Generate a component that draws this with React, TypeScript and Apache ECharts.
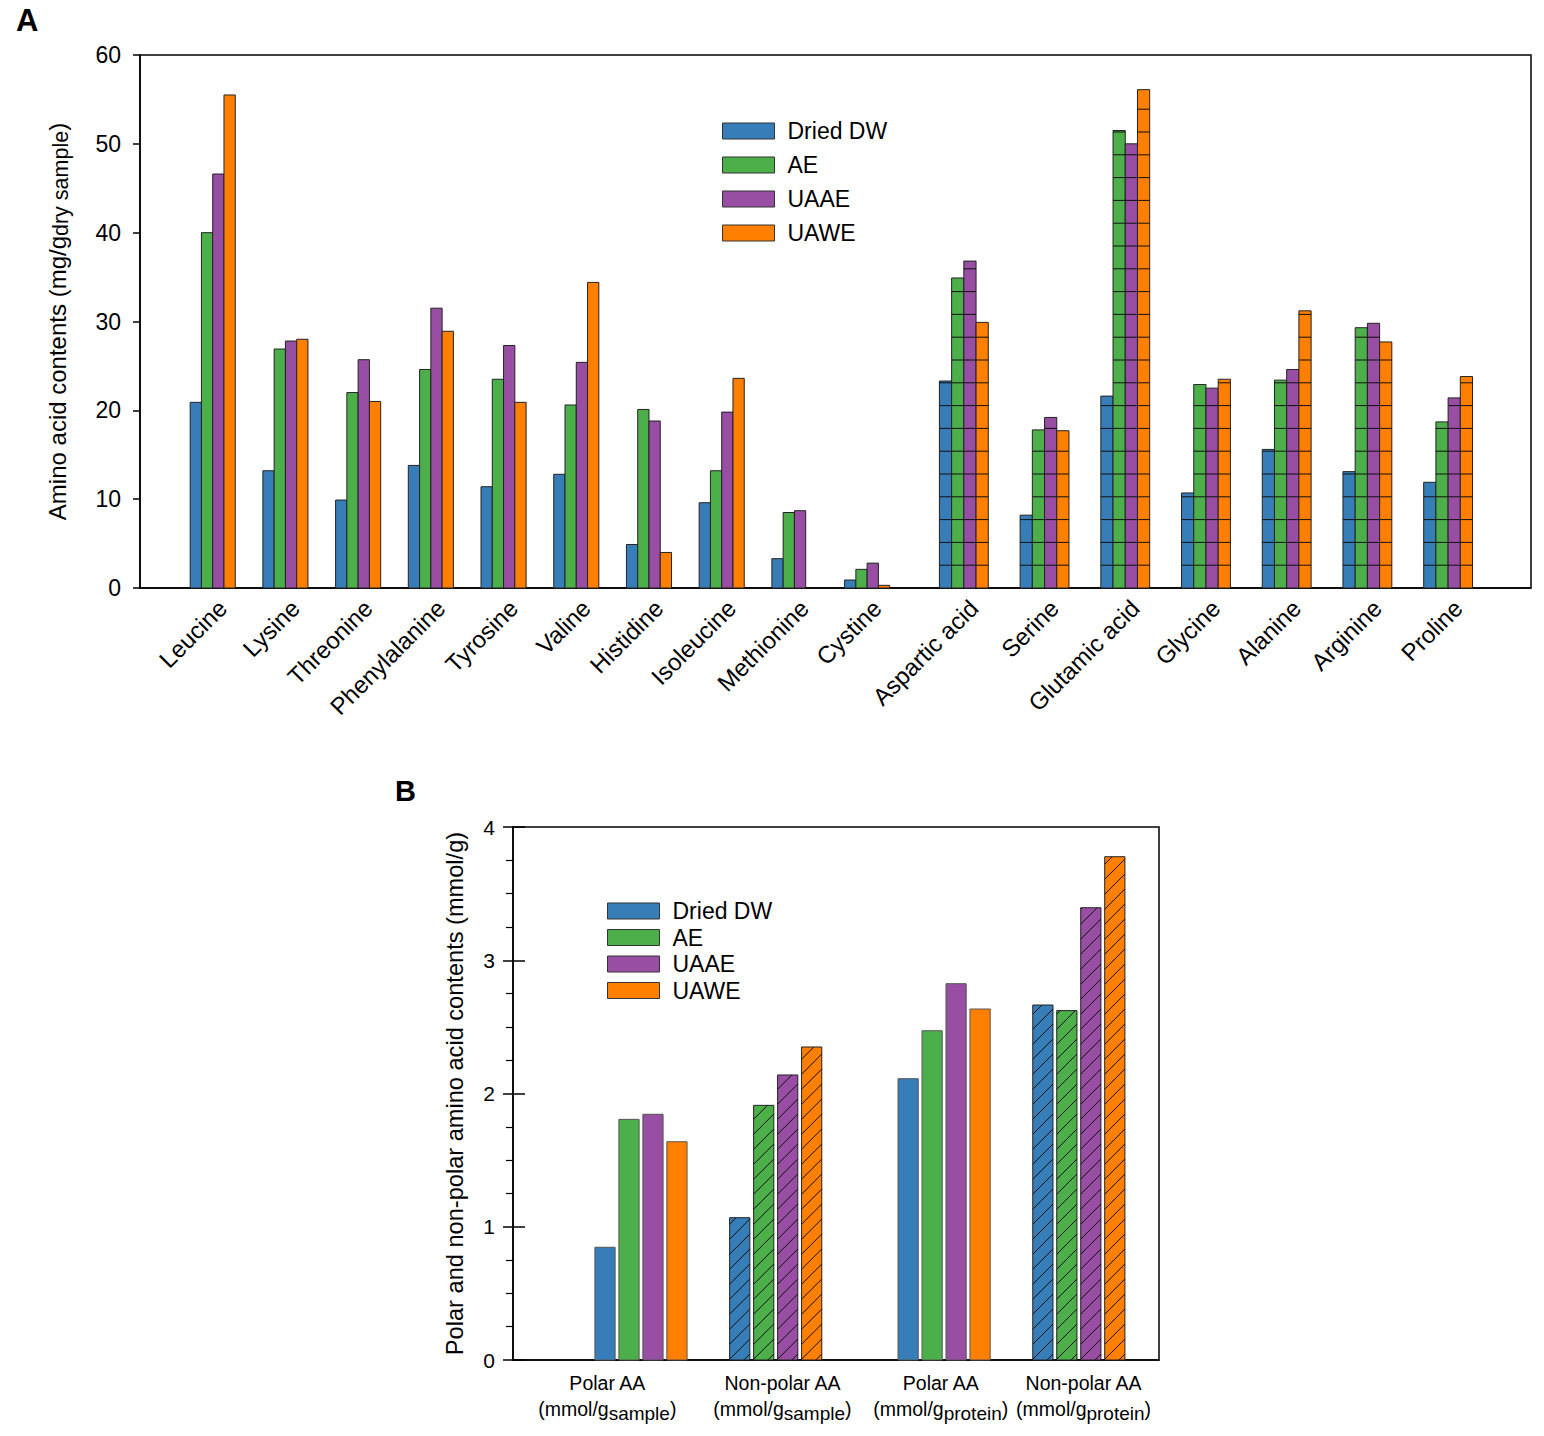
import React, { useEffect, useRef } from 'react';
import * as echarts from 'echarts';

const FONT = '"Liberation Sans", Arial, sans-serif';

// ---- shared ----
const seriesNames = ['Dried DW', 'AE', 'UAAE', 'UAWE'];
const colors = ['#377eb8', '#4daf4a', '#984ea3', '#ff7f00'];

// ---- Panel A data ----
const aminoAcids = [
  'Leucine', 'Lysine', 'Threonine', 'Phenylalanine', 'Tyrosine', 'Valine', 'Histidine',
  'Isoleucine', 'Methionine', 'Cystine', 'Aspartic acid', 'Serine', 'Glutamic acid',
  'Glycine', 'Alanine', 'Arginine', 'Proline',
];
// x positions of the groups (two sub-plots with different spacing)
const aminoPositions = [1, 2, 3, 4, 5, 6, 7, 8, 9, 10, 11.33, 12.44, 13.55, 14.66, 15.77, 16.88, 17.99];
const patternedFrom = 10; // non-essential amino acids drawn with a grid pattern

const driedDW_A = [20.9, 13.2, 9.9, 13.8, 11.4, 12.8, 4.9, 9.6, 3.3, 0.9, 23.3, 8.2, 21.6, 10.7, 15.6, 13.1, 11.9];
const ae_A = [40.0, 26.9, 22.0, 24.6, 23.5, 20.6, 20.1, 13.2, 8.5, 2.1, 34.9, 17.8, 51.5, 22.9, 23.4, 29.3, 18.7];
const uaae_A = [46.6, 27.8, 25.7, 31.5, 27.3, 25.4, 18.8, 19.8, 8.7, 2.8, 36.8, 19.2, 50.0, 22.5, 24.6, 29.8, 21.4];
const uawe_A = [55.5, 28.0, 21.0, 28.9, 20.9, 34.4, 4.0, 23.6, null, 0.3, 29.9, 17.7, 56.1, 23.5, 31.2, 27.7, 23.8];
const valuesA = [driedDW_A, ae_A, uaae_A, uawe_A];

// ---- Panel B data ----
const polarLabels = ['Polar AA', 'Non-polar AA', 'Polar AA', 'Non-polar AA'];
const polarUnits = ['sample', 'sample', 'protein', 'protein'];
const polarPositions = [0.95, 1.95, 3.2, 4.2];
const polarLabelPositions = [0.7, 2.0, 3.175, 4.235];
const hatched = [false, true, false, true];
const driedDW_B = [0.846, 1.068, 2.111, 2.664];
const ae_B = [1.806, 1.911, 2.471, 2.622];
const uaae_B = [1.844, 2.139, 2.824, 3.394];
const uawe_B = [1.638, 2.349, 2.634, 3.777];
const valuesB = [driedDW_B, ae_B, uaae_B, uawe_B];

function renderBarA(s: number) {
  return (params: any, api: any) => {
    const x = api.value(0);
    const v = api.value(1);
    const i = api.value(2);
    const pattern = i >= patternedFrom;
    const bw = pattern ? 0.168 : 0.155;
    const x0 = x + (s - 2) * bw;
    const tl = api.coord([x0, v]);
    const br = api.coord([x0 + bw, 0]);
    const children: any[] = [
      {
        type: 'rect',
        shape: { x: tl[0], y: tl[1], width: br[0] - tl[0], height: br[1] - tl[1] },
        style: { fill: colors[s], stroke: '#222', lineWidth: 1 },
      },
    ];
    if (pattern) {
      for (let y = br[1] - 22.8; y > tl[1] + 0.5; y -= 22.8) {
        children.push({
          type: 'line',
          shape: { x1: tl[0], y1: y, x2: br[0], y2: y },
          style: { stroke: '#111', lineWidth: 1 },
        });
      }
    }
    return { type: 'group', children };
  };
}

function renderBarB(s: number) {
  return (params: any, api: any) => {
    const x = api.value(0);
    const v = api.value(1);
    const i = api.value(2);
    const bw = 0.15;
    const step = 0.178;
    const x0 = x + (s - 1.5) * step - bw / 2;
    const tl = api.coord([x0, v]);
    const br = api.coord([x0 + bw, 0]);
    const left = tl[0], top = tl[1], right = br[0], bottom = br[1];
    const w = right - left;
    const h = hatched[i];
    const children: any[] = [
      {
        type: 'rect',
        shape: { x: left, y: top, width: w, height: bottom - top },
        style: { fill: colors[s], stroke: h ? '#222' : '#555', lineWidth: 1 },
      },
    ];
    if (h) {
      for (let c = bottom + w - 6; c > top; c -= 15) {
        let sx = left, sy = c, ex = right, ey = c - w;
        if (sy > bottom) { sx = left + (sy - bottom); sy = bottom; }
        if (ey < top) { ex = right - (top - ey); ey = top; }
        if (sx < ex) {
          children.push({
            type: 'line',
            shape: { x1: sx, y1: sy, x2: ex, y2: ey },
            style: { stroke: '#111', lineWidth: 1 },
          });
        }
      }
    }
    return { type: 'group', children };
  };
}

export default function App() {
  const ref = useRef<HTMLDivElement>(null);
  useEffect(() => {
    document.body.style.margin = '0';
    if (!ref.current) return;
    const chart = echarts.init(ref.current, undefined, { renderer: 'svg' });

    const axisLine = { show: true, lineStyle: { color: '#000', width: 1.5 } };

    const seriesA = seriesNames.map((name, s) => ({
      type: 'custom',
      name,
      xAxisIndex: 0,
      yAxisIndex: 0,
      itemStyle: { color: colors[s], borderColor: '#222', borderWidth: 1 },
      encode: { x: 0, y: 1 },
      data: valuesA[s]
        .map((v, i) => (v == null ? null : [aminoPositions[i], v, i]))
        .filter((d) => d !== null),
      renderItem: renderBarA(s),
    }));

    const seriesB = seriesNames.map((name, s) => ({
      type: 'custom',
      name,
      xAxisIndex: 1,
      yAxisIndex: 1,
      itemStyle: { color: colors[s], borderColor: '#333', borderWidth: 1 },
      encode: { x: 0, y: 1 },
      data: valuesB[s].map((v, i) => [polarPositions[i], v, i]),
      renderItem: renderBarB(s),
    }));

    const labelsA = {
      type: 'custom',
      name: 'labelsA',
      xAxisIndex: 0,
      yAxisIndex: 0,
      silent: true,
      clip: false,
      encode: { x: 0, y: 1 },
      data: aminoAcids.map((n, i) => [aminoPositions[i], 0, i]),
      renderItem: (params: any, api: any) => {
        const i = api.value(2);
        const p = api.coord([api.value(0), 0]);
        return {
          type: 'text',
          x: p[0] + 10,
          y: p[1] + 16,
          rotation: Math.PI / 4,
          style: {
            text: aminoAcids[i],
            fill: '#000',
            fontSize: 24,
            fontFamily: FONT,
            align: 'right',
            verticalAlign: 'middle',
          },
        };
      },
    };

    const labelsB = {
      type: 'custom',
      name: 'labelsB',
      xAxisIndex: 1,
      yAxisIndex: 1,
      silent: true,
      clip: false,
      encode: { x: 0, y: 1 },
      data: polarLabels.map((n, i) => [polarLabelPositions[i], 0, i]),
      renderItem: (params: any, api: any) => {
        const i = api.value(2);
        const p = api.coord([api.value(0), 0]);
        return {
          type: 'text',
          x: p[0],
          y: p[1] + 11,
          style: {
            text: `{l1|${polarLabels[i]}}\n{a|(mmol/g}{s|${polarUnits[i]}}{a|)}`,
            align: 'center',
            verticalAlign: 'top',
            rich: {
              l1: { fontSize: 19.5, lineHeight: 24, fontFamily: FONT, fill: '#000' },
              a: { fontSize: 19.5, lineHeight: 28, fontFamily: FONT, fill: '#000' },
              s: { fontSize: 19, lineHeight: 16, fontFamily: FONT, fill: '#000', verticalAlign: 'bottom' },
            },
          },
        };
      },
    };

    const legendCommon = {
      data: seriesNames,
      orient: 'vertical',
      itemWidth: 52,
      itemHeight: 16,
      icon: 'rect',
      padding: 0,
      selectedMode: false,
      itemStyle: { borderColor: '#333', borderWidth: 1 },
      textStyle: { fontSize: 23, lineHeight: 24, color: '#000', fontFamily: FONT, padding: [0, 0, 0, 8] },
    };

    const option: any = {
      animation: false,
      backgroundColor: '#fff',
      textStyle: { fontFamily: FONT },
      graphic: [
        { type: 'text', left: 16, top: 5, style: { text: 'A', font: `bold 31px ${FONT}`, fill: '#000' } },
        { type: 'text', left: 395, top: 776, style: { text: 'B', font: `bold 29px ${FONT}`, fill: '#000' } },
      ],
      legend: [
        { ...legendCommon, left: 722, top: 119, itemGap: 10 },
        { ...legendCommon, left: 607, top: 899, itemGap: 2.5 },
      ],
      grid: [
        { left: 140, top: 55, width: 1391, height: 533, show: true, borderColor: '#000', borderWidth: 1.5 },
        { left: 513, top: 827, width: 646, height: 533, show: true, borderColor: '#000', borderWidth: 1.5 },
      ],
      xAxis: [
        {
          gridIndex: 0, type: 'value', min: 0, max: 19.13,
          axisLine, axisTick: { show: false }, axisLabel: { show: false }, splitLine: { show: false },
        },
        {
          gridIndex: 1, type: 'value', min: 0, max: 4.795,
          axisLine, axisTick: { show: false }, axisLabel: { show: false }, splitLine: { show: false },
        },
      ],
      yAxis: [
        {
          gridIndex: 0, type: 'value', min: 0, max: 60, interval: 10, position: 'left',
          axisLine,
          axisTick: { show: true, length: 7, lineStyle: { color: '#000', width: 1.5 } },
          axisLabel: { fontSize: 23, color: '#000', margin: 19, fontFamily: FONT },
          splitLine: { show: false },
          name: '{a|Amino acid contents (mg/g}{s|dry sample}{a|)}',
          nameLocation: 'middle',
          nameRotate: 90,
          nameGap: 68,
          nameTextStyle: {
            rich: {
              a: { fontSize: 24, lineHeight: 30, fontFamily: FONT, color: '#000' },
              s: { fontSize: 21.5, lineHeight: 18, fontFamily: FONT, color: '#000', verticalAlign: 'bottom' },
            },
          },
        },
        {
          gridIndex: 1, type: 'value', min: 0, max: 4, interval: 1, position: 'left',
          axisLine,
          axisTick: { show: true, length: 10, lineStyle: { color: '#000', width: 1.5 } },
          minorTick: { show: true, splitNumber: 4, length: 7, lineStyle: { color: '#000', width: 1.2 } },
          axisLabel: { fontSize: 21, color: '#000', margin: 18, fontFamily: FONT },
          splitLine: { show: false },
          minorSplitLine: { show: false },
          name: 'Polar and non-polar amino acid contents (mmol/g)',
          nameLocation: 'middle',
          nameRotate: 90,
          nameGap: 45,
          nameTextStyle: { fontSize: 23.6, lineHeight: 26, fontFamily: FONT, color: '#000' },
        },
        {
          gridIndex: 1, type: 'value', min: 0, max: 4, interval: 1, position: 'left',
          axisLine: { show: false },
          axisTick: { show: true, inside: true, length: 12, lineStyle: { color: '#000', width: 1.5 } },
          axisLabel: { show: false },
          splitLine: { show: false },
        },
      ],
      series: [...seriesA, labelsA, ...seriesB, labelsB],
    };

    chart.setOption(option);
    return () => chart.dispose();
  }, []);

  return <div ref={ref} style={{ width: 1544, height: 1436 }} />;
}
